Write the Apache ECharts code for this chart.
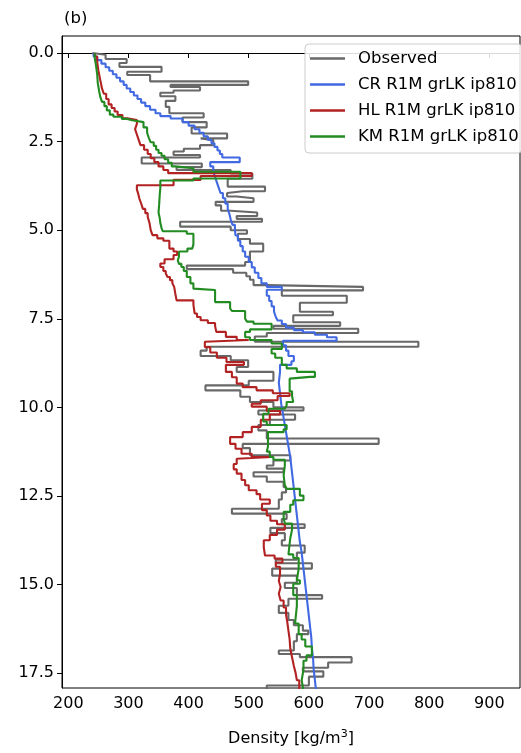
<!DOCTYPE html>
<html><head><meta charset="utf-8">
<script src="https://cdn.jsdelivr.net/npm/echarts@6/dist/echarts.min.js"></script>
<style>html,body{margin:0;padding:0;background:#fff}#c{width:521px;height:753px}</style>
</head><body><div id="c"></div>
<script>
const xTicks = [200, 300, 400, 500, 600, 700, 800, 900];
const yTicks = [0, 2.5, 5, 7.5, 10, 12.5, 15, 17.5];
const seriesNames = ['Observed', 'CR R1M grLK ip810', 'HL R1M grLK ip810', 'KM R1M grLK ip810'];
const seriesColors = ['#686868', '#4169e1', '#b22222', '#228b22'];
const profileBottom = 18.0;

// [layer top depth, density]
const obsLayers = [
[0.00,240],[0.05,262],[0.17,297],[0.28,285],[0.39,355],[0.53,298],[0.62,336],[0.80,499],[0.90,370],[0.96,419],
[1.06,375],[1.12,353],[1.22,378],[1.35,362],[1.52,368],[1.70,425],[1.82,390],[1.95,430],[2.10,405],[2.27,464],
[2.41,420],[2.46,441],[2.60,419],[2.70,392],[2.78,375],[2.88,419],[2.95,322],[3.12,422],[3.22,380],[3.30,470],
[3.40,506],[3.55,465],[3.77,527],[3.90,490],[3.95,464],[4.05,480],[4.10,508],[4.20,445],[4.30,454],[4.45,470],
[4.50,514],[4.60,480],[4.68,522],[4.76,386],[4.90,470],[5.00,497],[5.10,482],[5.25,502],[5.38,524],[5.60,502],
[5.90,494],[6.00,397],[6.10,474],[6.20,496],[6.30,502],[6.40,508],[6.55,530],[6.60,690],[6.70,555],[6.85,663],
[7.05,585],[7.30,640],[7.40,574],[7.60,652],[7.70,541],[7.78,682],[7.90,530],[8.00,510],[8.15,782],[8.29,430],
[8.40,420],[8.55,470],[8.67,499],[8.86,480],[9.00,541],[9.25,500],[9.38,428],[9.52,486],[9.70,502],[9.85,541],
[10.00,591],[10.09,516],[10.20,577],[10.35,535],[10.50,516],[10.65,530],[10.88,716],[11.03,490],[11.15,502],[11.35,569],
[11.50,541],[11.64,530],[11.73,558],[11.83,508],[11.95,530],[12.10,558],[12.25,562],[12.40,555],[12.60,550],[12.86,472],
[13.00,563],[13.15,555],[13.30,593],[13.40,536],[13.55,560],[13.75,555],[13.90,593],[14.10,580],[14.30,545],[14.40,605],
[14.55,539],[14.75,580],[14.95,560],[15.10,580],[15.30,622],[15.40,566],[15.60,550],[15.80,566],[16.00,575],[16.15,590],
[16.30,599],[16.40,580],[16.60,575],[16.86,550],[16.96,585],[17.05,671],[17.20,632],[17.35,590],[17.45,624],[17.60,600],
[17.85,530]
];

const crLayers = [
[0.00,242],[0.10,248],[0.20,255],[0.30,262],[0.40,268],[0.50,274],[0.60,280],[0.70,286],[0.80,292],[0.90,297],
[1.00,303],[1.10,309],[1.20,315],[1.30,321],[1.40,328],[1.50,336],[1.60,345],[1.70,353],[1.78,370],[1.85,390],
[1.95,400],[2.05,410],[2.15,418],[2.25,425],[2.35,432],[2.45,438],[2.55,443],[2.65,448],[2.75,452],[2.85,456],
[2.95,485],[3.08,436],[3.20,441],[3.35,444],[3.50,447],[3.65,450],[3.80,453],[3.95,457],[4.10,461],[4.25,465],
[4.40,468],[4.55,470],[4.70,473],[4.85,477],[5.00,478],[5.15,482],[5.30,486],[5.45,490],[5.60,494],[5.75,500],
[5.90,505],[6.05,510],[6.20,516],[6.35,521],[6.50,530],[6.60,555],[6.68,530],[6.85,534],[7.00,538],[7.15,542],
[7.30,545],[7.45,548],[7.55,555],[7.65,562],[7.75,575],[7.82,590],[7.88,610],[7.95,630],[8.02,646],[8.12,557],
[8.25,562],[8.40,566],[8.55,575],[8.70,571],[8.80,552],[9.00,550],[9.30,552],[9.60,554],[9.90,557],[10.20,560],
[10.50,563],[10.80,566],[11.10,569],[11.40,571],[11.70,573],[12.00,575],[12.30,577],[12.60,579],[12.90,581],[13.20,583],
[13.50,585],[13.80,588],[14.10,590],[14.40,592],[14.70,594],[15.00,596],[15.30,598],[15.60,600],[15.90,602],[16.20,604],
[16.50,605],[16.80,607],[17.10,608],[17.40,610],[17.70,612]
];

const hlLayers = [
[0.00,244],[0.10,248],[0.25,250],[0.50,253],[0.75,256],[1.00,259],[1.15,263],[1.30,267],[1.45,272],[1.55,277],
[1.65,282],[1.75,290],[1.84,298],[1.89,314],[2.00,311],[2.15,314],[2.30,317],[2.45,320],[2.60,326],[2.73,332],
[2.85,337],[2.97,343],[3.08,350],[3.20,358],[3.30,366],[3.39,505],[3.47,420],[3.58,375],[3.73,314],[3.85,316],
[3.96,318],[4.10,321],[4.24,324],[4.40,328],[4.52,332],[4.62,335],[4.80,337],[5.00,340],[5.14,348],[5.23,358],
[5.30,368],[5.52,375],[5.60,381],[5.70,375],[5.82,360],[5.94,353],[6.04,358],[6.15,362],[6.22,365],[6.32,369],
[6.41,373],[6.50,376],[6.60,378],[6.80,380],[6.98,408],[7.10,410],[7.35,414],[7.45,420],[7.54,432],[7.62,444],
[7.70,446],[7.87,462],[8.01,480],[8.10,500],[8.15,427],[8.30,436],[8.45,447],[8.60,463],[8.72,492],[8.80,462],
[9.00,472],[9.15,480],[9.33,490],[9.43,513],[9.52,540],[9.60,568],[9.68,548],[9.80,520],[9.90,505],[9.98,530],
[10.10,552],[10.20,535],[10.35,520],[10.55,505],[10.70,490],[10.84,469],[11.03,478],[11.17,488],[11.31,505],[11.40,538],
[11.45,480],[11.60,475],[11.75,480],[11.87,488],[12.05,494],[12.20,500],[12.34,513],[12.45,519],[12.60,535],[12.72,522],
[12.90,530],[13.05,536],[13.20,547],[13.30,560],[13.45,547],[13.60,535],[13.75,525],[13.95,527],[14.18,543],[14.27,556],
[14.38,545],[14.50,552],[14.70,550],[14.90,553],[15.07,550],[15.26,553],[15.45,558],[15.65,562],[15.85,564],[16.05,566],
[16.30,568],[16.55,569],[16.80,572],[17.05,575],[17.30,578],[17.50,580],[17.70,584]
];

const kmLayers = [
[0.00,244],[0.15,246],[0.35,248],[0.60,249],[0.85,251],[1.05,253],[1.23,256],[1.38,260],[1.50,264],[1.62,269],
[1.74,275],[1.80,289],[1.86,298],[1.90,306],[1.95,325],[2.10,331],[2.25,334],[2.40,337],[2.52,342],[2.62,346],
[2.73,350],[2.82,355],[2.90,360],[3.00,366],[3.10,372],[3.20,378],[3.25,408],[3.35,486],[3.54,408],[3.60,353],
[3.81,352],[4.00,351],[4.28,350],[4.50,352],[4.66,353],[4.80,355],[4.94,357],[5.03,397],[5.10,408],[5.40,406],
[5.52,398],[5.60,384],[5.75,382],[5.85,384],[5.95,388],[6.04,392],[6.15,397],[6.32,403],[6.50,408],[6.65,411],
[6.69,444],[7.03,469],[7.21,472],[7.28,494],[7.50,497],[7.58,508],[7.64,538],[7.80,502],[7.87,494],[8.02,502],
[8.10,538],[8.20,555],[8.35,538],[8.48,544],[8.60,555],[8.80,563],[8.90,580],[9.00,610],[9.14,602],[9.19,568],
[9.55,572],[9.68,574],[9.85,563],[9.95,560],[10.04,533],[10.18,524],[10.40,530],[10.50,563],[10.62,558],[10.70,532],
[11.10,530],[11.25,535],[11.40,541],[11.48,560],[11.64,558],[11.92,560],[12.20,563],[12.30,585],[12.49,591],[12.62,574],
[12.75,569],[12.95,558],[13.12,560],[13.28,572],[13.45,569],[13.70,566],[14.15,574],[14.25,583],[14.55,580],[14.88,585],
[14.98,574],[15.30,580],[15.60,577],[16.10,583],[16.40,588],[16.55,594],[16.75,605],[17.00,596],[17.15,591],[17.40,588],
[17.70,591]
];

function profile(layers, bottom) {
  const pts = [];
  for (let i = 0; i < layers.length; i++) {
    const top = layers[i][0];
    const next = i + 1 < layers.length ? layers[i + 1][0] : bottom;
    pts.push([layers[i][1], top]);
    pts.push([layers[i][1], next]);
  }
  return pts;
}

const allLayers = [obsLayers, crLayers, hlLayers, kmLayers];
const FONT = 'DejaVu Sans';
const chart = echarts.init(document.getElementById('c'), null, {renderer: 'canvas'});
chart.setOption({
  animation: false,
  backgroundColor: '#fff',
  title: {text: '(b)', left: 64, top: 10, padding: 0,
    textStyle: {fontSize: 16.5, fontWeight: 'normal', color: '#000', fontFamily: FONT}},
  grid: {left: 62, right: 1, top: 36, bottom: 65, show: true, borderColor: '#000', borderWidth: 1},
  legend: {
    orient: 'vertical', left: 305, top: 44,
    backgroundColor: 'rgba(255,255,255,0.85)', borderColor: '#cccccc', borderWidth: 1, borderRadius: 4,
    padding: [6, 3, 8, 5], itemWidth: 35, itemHeight: 2.5, itemGap: 9, icon: 'rect',
    textStyle: {fontSize: 16.5, color: '#000', fontFamily: FONT, padding: [0, 0, 0, 8], lineHeight: 17},
    data: seriesNames
  },
  xAxis: {
    type: 'value', min: 189.5, max: 951,
    axisLine: {show: true, lineStyle: {color: '#000', width: 1}},
    axisTick: {show: true, customValues: xTicks, length: 5, lineStyle: {color: '#000'}},
    axisLabel: {customValues: xTicks, color: '#000', fontSize: 16, margin: 8, fontFamily: FONT},
    splitLine: {show: false},
    name: '{a|Density [kg/m}{s|3}{a|]}', nameLocation: 'middle', nameGap: 41,
    nameTextStyle: {rich: {
      a: {fontSize: 16, color: '#000', fontFamily: FONT},
      s: {fontSize: 11, color: '#000', fontFamily: FONT, verticalAlign: 'top', padding: [0, 0, 8, 0]}
    }}
  },
  yAxis: {
    type: 'value', inverse: true, min: -0.48, max: 17.92,
    axisLine: {show: true, lineStyle: {color: '#000', width: 1}},
    axisTick: {show: true, customValues: yTicks, length: 5, lineStyle: {color: '#000'}},
    axisLabel: {customValues: yTicks, color: '#000', fontSize: 16, margin: 8, fontFamily: FONT,
      formatter: v => Number(v).toFixed(1)},
    splitLine: {show: false}
  },
  series: seriesNames.map((n, i) => ({
    name: n, type: 'line', data: profile(allLayers[i], profileBottom),
    symbol: 'none', showSymbol: false, clip: true,
    lineStyle: {width: 2.1, color: seriesColors[i]}, itemStyle: {color: seriesColors[i]}
  }))
});
</script></body></html>
